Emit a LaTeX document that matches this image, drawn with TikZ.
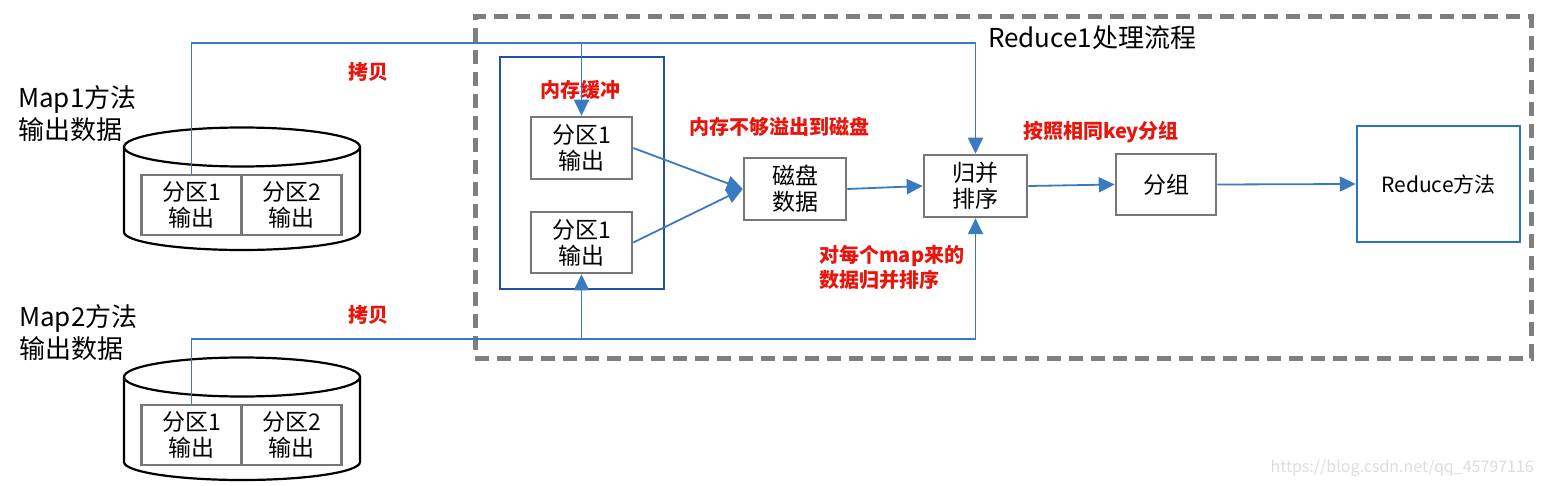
\documentclass[tikz,border=0pt]{standalone}
\usepackage{fontspec}
\setmainfont{Noto Sans CJK SC}
\usetikzlibrary{arrows.meta}
\definecolor{conn}{HTML}{3A7AC0}
\definecolor{bufblue}{HTML}{2350A0}
\definecolor{redblue}{HTML}{2E75B6}
\definecolor{boxgray}{HTML}{777777}
\definecolor{dashgray}{HTML}{7F7F7F}
\definecolor{lab}{HTML}{E8150D}
\definecolor{wm}{HTML}{DDDDDD}
\tikzset{
  graybox/.style={draw=boxgray, line width=2.5pt, fill=white, inner sep=0pt, align=center,
    font=\fontsize{23}{26}\selectfont},
  partbox/.style={graybox, minimum width=100pt, minimum height=60pt},
  cyl/.style={draw=black, line width=2.2pt},
  link/.style={draw=conn, line width=1.8pt, -{Triangle[length=16pt,width=15pt]}},
  plain/.style={draw=conn, line width=1.8pt},
  redlab/.style={text=lab, font=\fontsize{20}{25}\selectfont\bfseries, inner sep=0pt, align=left},
  maplab/.style={font=\fontsize{26}{32}\selectfont, inner sep=0pt, align=left, anchor=west},
}
\begin{document}
\begin{tikzpicture}[x=1pt,y=-1pt]
\useasboundingbox (0,0) rectangle (1544,486);
\fill[white] (0,0) rectangle (1544,486);

% dashed processing frame
\node[draw=dashgray, line width=5pt, dash pattern=on 14pt off 8pt,
      minimum width=1056pt, minimum height=341pt, inner sep=0pt] (proc) at (1003,187.5) {};
\node[font=\fontsize{26}{30}\selectfont, anchor=west, inner sep=0pt] (title) at (988,38) {Reduce1处理流程};

% cylinders
\draw[cyl, fill=white] (124,147) -- (124,232)
   .. controls (124,241.9) and (176.8,250) .. (242,250)
   .. controls (307.2,250) and (360,241.9) .. (360,232) -- (360,147);
\draw[cyl] (242,147) ellipse[x radius=118, y radius=19.5];
\draw[cyl, fill=white] (124,377) -- (124,462)
   .. controls (124,471.9) and (176.8,480) .. (242,480)
   .. controls (307.2,480) and (360,471.9) .. (360,462) -- (360,377);
\draw[cyl] (242,377) ellipse[x radius=118, y radius=19.5];

\node[partbox] (p11) at (191.5,205) {分区1\\输出};
\node[partbox] (p12) at (291.5,205) {分区2\\输出};
\node[partbox] (p21) at (191.5,435) {分区1\\输出};
\node[partbox] (p22) at (291.5,435) {分区2\\输出};

\node[maplab] (m1) at (18,114) {Map1方法\\输出数据};
\node[maplab] (m2) at (19,333) {Map2方法\\输出数据};

% memory buffer
\node[draw=bufblue, line width=2.5pt, minimum width=164pt, minimum height=232pt, inner sep=0pt] (buffer) at (582,173) {};
\node[graybox, minimum width=101pt, minimum height=62pt] (buf1) at (581.5,148) {分区1\\输出};
\node[graybox, minimum width=101pt, minimum height=61pt] (buf2) at (581.5,242.5) {分区1\\输出};
\node[redlab] (lbuf) at (580,90) {内存缓冲};

\node[graybox, minimum width=102pt, minimum height=62pt] (disk) at (795,189) {磁盘\\数据};
\node[graybox, minimum width=103pt, minimum height=62pt] (merge) at (975.5,186) {归并\\排序};
\node[graybox, minimum width=100pt, minimum height=61pt] (group) at (1166,184.5) {分组};
\node[draw=redblue, line width=2.5pt, fill=white, minimum width=163pt, minimum height=116pt, inner sep=0pt,
      font=\fontsize{21}{25}\selectfont] (reduce) at (1438.5,184) {Reduce方法};

% labels
\node[redlab] (c1) at (368,72) {拷贝};
\node[redlab] (c2) at (368,315) {拷贝};
\node[redlab] (spill) at (779,127) {内存不够溢出到磁盘};
\node[redlab, anchor=west] (mergelab) at (819,267.5) {对每个map来的\\数据归并排序};
\node[redlab] (grouplab) at (1101,132) {按照相同key分组};

% connectors
\coordinate (j1) at (581.5,43);
\coordinate (j2) at (581.5,339);
\draw[plain] (p11.north) |- (j1);
\draw[link] (j1) -- (buf1.north);
\draw[link] (j1) -| (merge.north);
\draw[plain] (p21.north) |- (j2);
\draw[link] (j2) -- (buf2.south);
\draw[link] (j2) -| (merge.south);
\draw[link] (buf1.east) -- (disk.west);
\draw[link] (buf2.east) -- (disk.west);
\draw[link] (disk.east) -- (merge.west);
\draw[link] (merge.east) -- (group.west);
\draw[link] (group.east) -- (reduce.west);

% watermark
\node[text=wm, font=\fontsize{16}{18}\selectfont, anchor=east, inner sep=0pt] (wmark) at (1534,468) {https://blog.csdn.net/qq\_45797116};
\end{tikzpicture}
\end{document}
